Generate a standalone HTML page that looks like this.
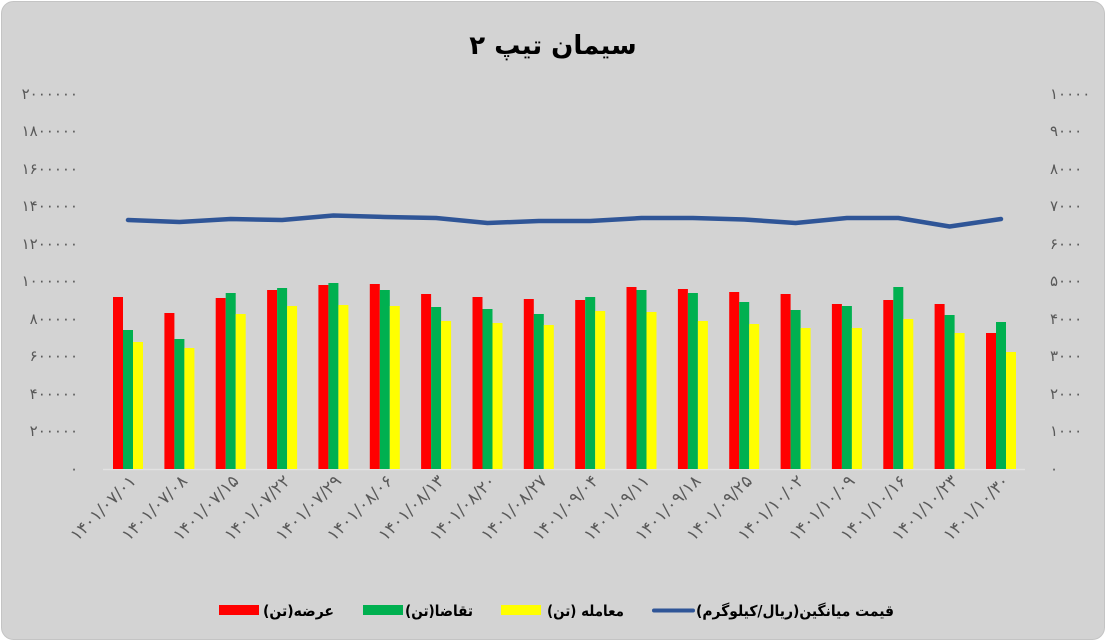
<!DOCTYPE html>
<html><head><meta charset="utf-8"><style>
body{margin:0;background:#fff;}
svg{display:block;}
text{font-family:"DejaVu Sans","Liberation Sans",sans-serif;}
</style></head><body>
<svg width="1106" height="641" viewBox="0 0 1106 641">
<rect x="1.5" y="1.5" width="1103" height="638" rx="12" fill="#d3d3d3" stroke="#c4c4c4"/>
<text x="553" y="54" text-anchor="middle" font-size="26" font-weight="bold" fill="#000" direction="rtl">سیمان تیپ ۲</text>
<g font-size="15" fill="#595959" text-anchor="end">
<text x="78" y="99">۲۰۰۰۰۰۰</text><text x="78" y="136">۱۸۰۰۰۰۰</text><text x="78" y="174">۱۶۰۰۰۰۰</text><text x="78" y="211">۱۴۰۰۰۰۰</text><text x="78" y="249">۱۲۰۰۰۰۰</text><text x="78" y="286">۱۰۰۰۰۰۰</text><text x="78" y="324">۸۰۰۰۰۰</text><text x="78" y="361">۶۰۰۰۰۰</text><text x="78" y="399">۴۰۰۰۰۰</text><text x="78" y="436">۲۰۰۰۰۰</text><text x="78" y="474">۰</text>
</g>
<g font-size="15" fill="#595959" text-anchor="start">
<text x="1050" y="99">۱۰۰۰۰</text><text x="1050" y="136">۹۰۰۰</text><text x="1050" y="174">۸۰۰۰</text><text x="1050" y="211">۷۰۰۰</text><text x="1050" y="249">۶۰۰۰</text><text x="1050" y="286">۵۰۰۰</text><text x="1050" y="324">۴۰۰۰</text><text x="1050" y="361">۳۰۰۰</text><text x="1050" y="399">۲۰۰۰</text><text x="1050" y="436">۱۰۰۰</text><text x="1050" y="474">۰</text>
</g>
<line x1="103" y1="469.5" x2="1025" y2="469.5" stroke="#e2e2e2" stroke-width="1.5"/>
<g>
<rect x="113" y="297" width="10" height="172" fill="#ff0000"/><rect x="123" y="330" width="10" height="139" fill="#00b050"/><rect x="133" y="342" width="10" height="127" fill="#ffff00"/>
<rect x="164.4" y="313" width="10" height="156" fill="#ff0000"/><rect x="174.4" y="339" width="10" height="130" fill="#00b050"/><rect x="184.4" y="348" width="10" height="121" fill="#ffff00"/>
<rect x="215.7" y="298" width="10" height="171" fill="#ff0000"/><rect x="225.7" y="293" width="10" height="176" fill="#00b050"/><rect x="235.7" y="314" width="10" height="155" fill="#ffff00"/>
<rect x="267.1" y="290" width="10" height="179" fill="#ff0000"/><rect x="277.1" y="288" width="10" height="181" fill="#00b050"/><rect x="287.1" y="306" width="10" height="163" fill="#ffff00"/>
<rect x="318.4" y="285" width="10" height="184" fill="#ff0000"/><rect x="328.4" y="283" width="10" height="186" fill="#00b050"/><rect x="338.4" y="305" width="10" height="164" fill="#ffff00"/>
<rect x="369.8" y="284" width="10" height="185" fill="#ff0000"/><rect x="379.8" y="290" width="10" height="179" fill="#00b050"/><rect x="389.8" y="306" width="10" height="163" fill="#ffff00"/>
<rect x="421.1" y="294" width="10" height="175" fill="#ff0000"/><rect x="431.1" y="307" width="10" height="162" fill="#00b050"/><rect x="441.1" y="321" width="10" height="148" fill="#ffff00"/>
<rect x="472.5" y="297" width="10" height="172" fill="#ff0000"/><rect x="482.5" y="309" width="10" height="160" fill="#00b050"/><rect x="492.5" y="323" width="10" height="146" fill="#ffff00"/>
<rect x="523.8" y="299" width="10" height="170" fill="#ff0000"/><rect x="533.8" y="314" width="10" height="155" fill="#00b050"/><rect x="543.8" y="325" width="10" height="144" fill="#ffff00"/>
<rect x="575.2" y="300" width="10" height="169" fill="#ff0000"/><rect x="585.2" y="297" width="10" height="172" fill="#00b050"/><rect x="595.2" y="311" width="10" height="158" fill="#ffff00"/>
<rect x="626.5" y="287" width="10" height="182" fill="#ff0000"/><rect x="636.5" y="290" width="10" height="179" fill="#00b050"/><rect x="646.5" y="312" width="10" height="157" fill="#ffff00"/>
<rect x="677.9" y="289" width="10" height="180" fill="#ff0000"/><rect x="687.9" y="293" width="10" height="176" fill="#00b050"/><rect x="697.9" y="321" width="10" height="148" fill="#ffff00"/>
<rect x="729.2" y="292" width="10" height="177" fill="#ff0000"/><rect x="739.2" y="302" width="10" height="167" fill="#00b050"/><rect x="749.2" y="324" width="10" height="145" fill="#ffff00"/>
<rect x="780.6" y="294" width="10" height="175" fill="#ff0000"/><rect x="790.6" y="310" width="10" height="159" fill="#00b050"/><rect x="800.6" y="328" width="10" height="141" fill="#ffff00"/>
<rect x="831.9" y="304" width="10" height="165" fill="#ff0000"/><rect x="841.9" y="306" width="10" height="163" fill="#00b050"/><rect x="851.9" y="328" width="10" height="141" fill="#ffff00"/>
<rect x="883.3" y="300" width="10" height="169" fill="#ff0000"/><rect x="893.3" y="287" width="10" height="182" fill="#00b050"/><rect x="903.3" y="319" width="10" height="150" fill="#ffff00"/>
<rect x="934.6" y="304" width="10" height="165" fill="#ff0000"/><rect x="944.6" y="315" width="10" height="154" fill="#00b050"/><rect x="954.6" y="333" width="10" height="136" fill="#ffff00"/>
<rect x="986" y="333" width="10" height="136" fill="#ff0000"/><rect x="996" y="322" width="10" height="147" fill="#00b050"/><rect x="1006" y="352" width="10" height="117" fill="#ffff00"/>
</g>
<polyline fill="none" stroke="#2f5597" stroke-width="4.5" stroke-linecap="round" stroke-linejoin="round" points="128,220 179.4,222 230.7,219 282.1,220 333.4,215.5 384.8,217 436.1,218 487.5,223 538.8,221 590.2,221 641.5,218 692.9,218 744.2,219.5 795.6,223 846.9,218 898.3,218 949.6,226.5 1001,219"/>
<g font-size="17" fill="#595959" text-anchor="end">
<text transform="translate(137,482) rotate(-45)">۱۴۰۱/۰۷/۰۱</text>
<text transform="translate(188.4,482) rotate(-45)">۱۴۰۱/۰۷/۰۸</text>
<text transform="translate(239.7,482) rotate(-45)">۱۴۰۱/۰۷/۱۵</text>
<text transform="translate(291.1,482) rotate(-45)">۱۴۰۱/۰۷/۲۲</text>
<text transform="translate(342.4,482) rotate(-45)">۱۴۰۱/۰۷/۲۹</text>
<text transform="translate(393.8,482) rotate(-45)">۱۴۰۱/۰۸/۰۶</text>
<text transform="translate(445.1,482) rotate(-45)">۱۴۰۱/۰۸/۱۳</text>
<text transform="translate(496.5,482) rotate(-45)">۱۴۰۱/۰۸/۲۰</text>
<text transform="translate(547.8,482) rotate(-45)">۱۴۰۱/۰۸/۲۷</text>
<text transform="translate(599.2,482) rotate(-45)">۱۴۰۱/۰۹/۰۴</text>
<text transform="translate(650.5,482) rotate(-45)">۱۴۰۱/۰۹/۱۱</text>
<text transform="translate(701.9,482) rotate(-45)">۱۴۰۱/۰۹/۱۸</text>
<text transform="translate(753.2,482) rotate(-45)">۱۴۰۱/۰۹/۲۵</text>
<text transform="translate(804.6,482) rotate(-45)">۱۴۰۱/۱۰/۰۲</text>
<text transform="translate(855.9,482) rotate(-45)">۱۴۰۱/۱۰/۰۹</text>
<text transform="translate(907.3,482) rotate(-45)">۱۴۰۱/۱۰/۱۶</text>
<text transform="translate(958.6,482) rotate(-45)">۱۴۰۱/۱۰/۲۳</text>
<text transform="translate(1010,482) rotate(-45)">۱۴۰۱/۱۰/۳۰</text>
</g>
<g font-size="15" font-weight="bold" fill="#000">
<rect x="219" y="605" width="40" height="10" fill="#ff0000"/>
<text x="334" y="616" direction="rtl" text-anchor="start" textLength="71" lengthAdjust="spacingAndGlyphs">عرضه(تن)</text>
<rect x="363" y="605" width="40" height="10" fill="#00b050"/>
<text x="473" y="616" direction="rtl" text-anchor="start" textLength="68" lengthAdjust="spacingAndGlyphs">تقاضا(تن)</text>
<rect x="501" y="605" width="40" height="10" fill="#ffff00"/>
<text x="624" y="616" direction="rtl" text-anchor="start" textLength="77" lengthAdjust="spacingAndGlyphs">معامله (تن)</text>
<line x1="654" y1="610.5" x2="693" y2="610.5" stroke="#2f5597" stroke-width="4" stroke-linecap="round"/>
<text x="894" y="616" direction="rtl" text-anchor="start" textLength="198" lengthAdjust="spacingAndGlyphs">قیمت میانگین(ریال/کیلوگرم)</text>
</g>
</svg>
</body></html>
